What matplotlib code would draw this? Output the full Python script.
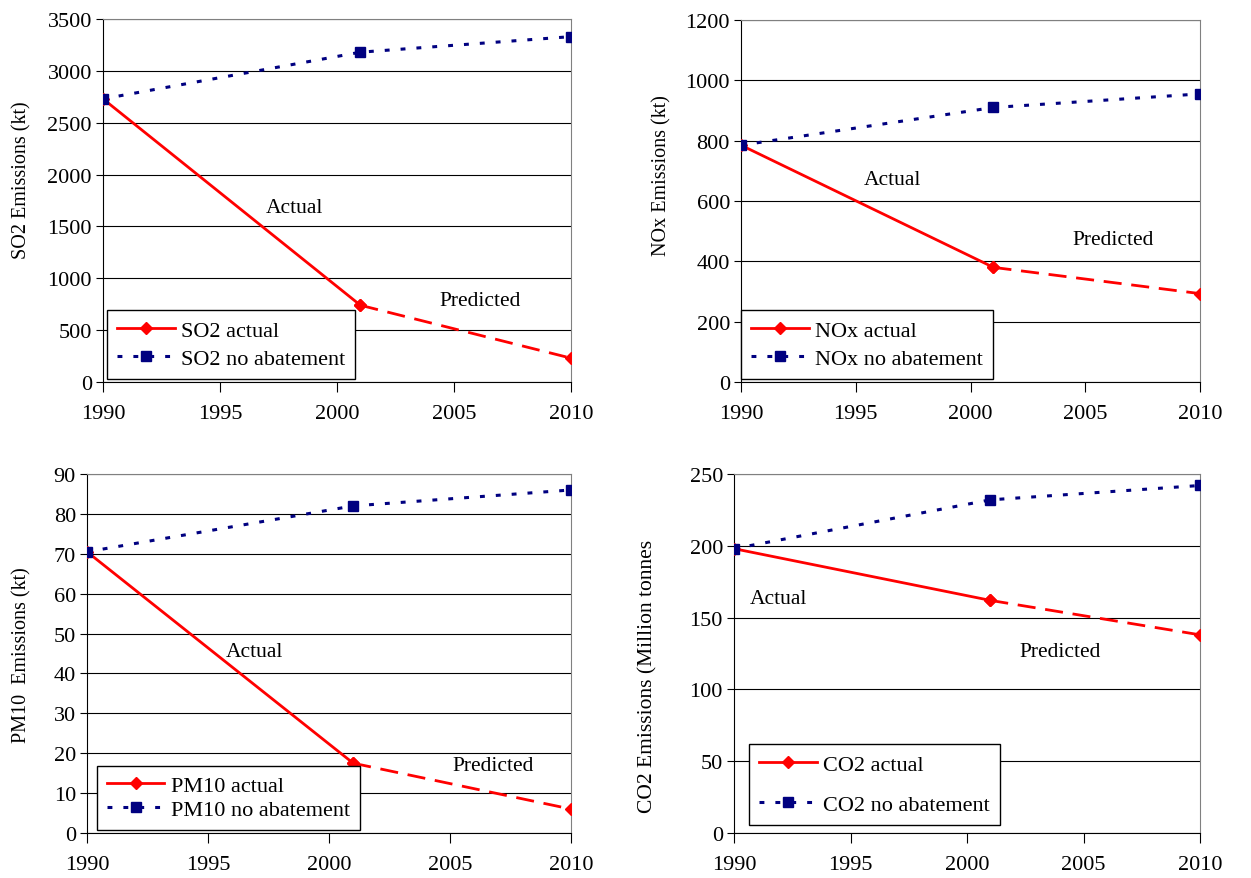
import matplotlib.pyplot as plt
from matplotlib.lines import Line2D

plt.rcParams['font.family'] = ['Liberation Serif', 'DejaVu Serif']

years = [1990, 2001, 2010]

so2_actual = [2730, 740, 230]
so2_noab = [2730, 3180, 3330]
nox_actual = [785, 380, 293]
nox_noab = [785, 910, 955]
pm10_actual = [70.5, 17.5, 6]
pm10_noab = [70.5, 82, 86]
co2_actual = [198, 162, 138]
co2_noab = [198, 232, 242]

panels = [
    # name, actual, noab, ylabel, ymax, ystep
    ('SO2', so2_actual, so2_noab, 'SO2 Emissions (kt)', 3500, 500),
    ('NOx', nox_actual, nox_noab, 'NOx Emissions (kt)', 1200, 200),
    ('PM10', pm10_actual, pm10_noab, 'PM10  Emissions (kt)', 90, 10),
    ('CO2', co2_actual, co2_noab, 'CO2 Emissions (Million tonnes', 250, 50),
]

W, H = 1251, 879
# axes boxes in pixels: left, right, top, bottom
boxes = [(103, 571, 20, 383), (741, 1200, 21, 383),
         (87, 571, 475, 834), (734, 1200, 475, 834)]
# text label positions (x year, y value)
actual_pos = [(1998.2, 1678), (1996.6, 670), (1996.9, 45.6), (1991.9, 163.6)]
pred_pos = [(2006.1, 790), (2006.2, 471), (2006.8, 17), (2004.0, 126.7)]
leg_anchor = [(0.008, 0.008), (0.0, 0.008), (0.02, 0.008), (0.032, 0.022)]
leg_spacing = [0.35, 0.35, 0.15, 0.9]
# y-label centre in pixels, size
ylab_xy = [(22, 180), (662, 176), (22, 655), (648, 676)]
ylab_size = [14.5, 14.5, 14.5, 15.5]

red = '#FF0000'
navy = '#000080'

fig = plt.figure(figsize=(W / 100, H / 100), dpi=100)

for i, (name, act, noab, ylab, ymax, ystep) in enumerate(panels):
    l, r, t, b = boxes[i]
    ax = fig.add_axes([l / W, 1 - b / H, (r - l) / W, (b - t) / H])

    ax.plot(years[:2], act[:2], color=red, lw=2, marker='D', ms=6, zorder=4)
    ax.plot(years[1:], act[1:], color=red, lw=2, marker='D', ms=6,
            linestyle=(0, (6.5, 3.5)), zorder=4)
    ax.plot(years, noab, color=navy, lw=2.2, marker='s', ms=6.5,
            linestyle=(0, (1.6, 3.6)), zorder=4)

    ax.set_xlim(1990, 2010)
    ax.set_ylim(0, ymax)
    ax.set_xticks(range(1990, 2011, 5))
    ax.set_yticks(range(0, ymax + 1, ystep))
    ax.yaxis.grid(True, color='black', lw=0.8)
    ax.set_axisbelow(True)
    for s in ['top', 'right']:
        ax.spines[s].set_color('#808080')
    for s in ['left', 'bottom']:
        ax.spines[s].set_color('black')
    ax.tick_params(axis='y', direction='out', length=5, labelsize=16, pad=3)
    ax.tick_params(axis='x', direction='out', length=7, labelsize=16, pad=9)
    ax.set_ylabel(ylab, fontsize=ylab_size[i])
    lx, ly = ylab_xy[i]
    ax.yaxis.set_label_coords((lx - l) / (r - l), (b - ly) / (b - t))
    ax.yaxis.label.set_verticalalignment('center')

    ax.text(*actual_pos[i], 'Actual', fontsize=15.5, ha='center', va='center')
    ax.text(*pred_pos[i], 'Predicted', fontsize=15.5, ha='center', va='center')

    handles = [
        Line2D([], [], color=red, lw=2, marker='D', ms=6),
        Line2D([], [], color=navy, lw=2.2, marker='s', ms=6.5,
               linestyle=(0, (1.6, 3.6))),
    ]
    leg = ax.legend(handles, [name + ' actual', name + ' no abatement'],
                    loc='lower left', bbox_to_anchor=leg_anchor[i],
                    fontsize=16, frameon=True, fancybox=False,
                    edgecolor='black', framealpha=1, borderpad=0.45,
                    labelspacing=leg_spacing[i], handlelength=2.6,
                    handletextpad=0.3, borderaxespad=0)
    leg.get_frame().set_linewidth(1.0)
    leg.set_zorder(5)

fig.savefig('out.png', dpi=100)
